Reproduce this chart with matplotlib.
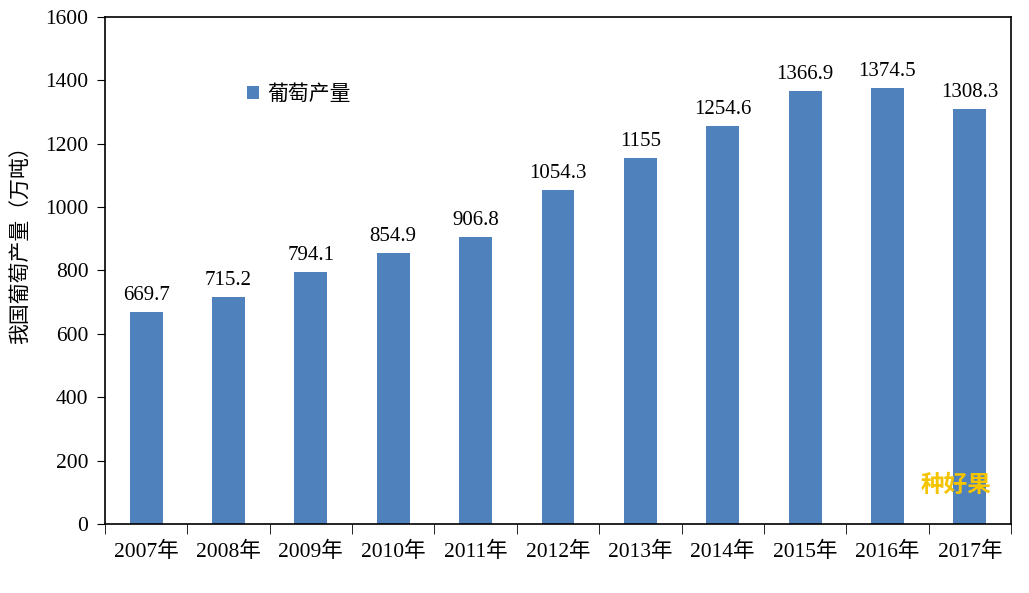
import matplotlib.pyplot as plt
import numpy as np

plt.rcParams['font.family'] = ['Liberation Serif', 'Noto Sans CJK SC']

years = ['2007年', '2008年', '2009年', '2010年', '2011年', '2012年',
         '2013年', '2014年', '2015年', '2016年', '2017年']
output = [669.7, 715.2, 794.1, 854.9, 906.8, 1054.3, 1155, 1254.6, 1366.9, 1374.5, 1308.3]
value_labels = ['669.7', '715.2', '794.1', '854.9', '906.8', '1054.3', '1155',
                '1254.6', '1366.9', '1374.5', '1308.3']

fig = plt.figure(figsize=(10.29, 5.93), dpi=100)
ax = fig.add_axes([0.102, 0.1164, 0.8805, 0.855])

x = np.arange(len(years))
ax.bar(x, output, width=0.4, color='#4F81BD', label='葡萄产量', zorder=2)

for xi, v, s in zip(x, output, value_labels):
    ax.text(xi, v + 22, s, ha='center', va='bottom', fontsize=15)

ax.set_xlim(-0.5, len(years) - 0.5)
ax.set_ylim(0, 1600)
ax.set_yticks(range(0, 1601, 200))
ax.tick_params(axis='y', labelsize=15.5, direction='out', length=6, pad=6)

ax.set_xticks(x)
ax.set_xticklabels(years, fontsize=15.5)
ax.tick_params(axis='x', length=0, pad=13)
ax.set_xticks(np.arange(-0.5, len(years) + 0.5, 1), minor=True)
ax.tick_params(axis='x', which='minor', length=7, direction='out')

for sp in ax.spines.values():
    sp.set_linewidth(1.2)

ax.set_ylabel('我国葡萄产量（万吨）', family=['Noto Sans CJK SC'], fontsize=15, fontweight='light')
ax.yaxis.set_label_coords(-0.08, 0.56)

ax.legend(loc='upper left', bbox_to_anchor=(0.136, 0.907), frameon=False,
          prop={'family': 'Noto Sans CJK SC', 'size': 15},
          handlelength=0.6, handleheight=0.6, handletextpad=0.4)

ax.text(0.939, 0.077, '种好果', transform=ax.transAxes, ha='center', va='center',
        color='#F5C400', fontsize=17, fontweight='bold',
        family=['Noto Sans CJK SC'], zorder=3)

fig.savefig('out.png', dpi=100)
